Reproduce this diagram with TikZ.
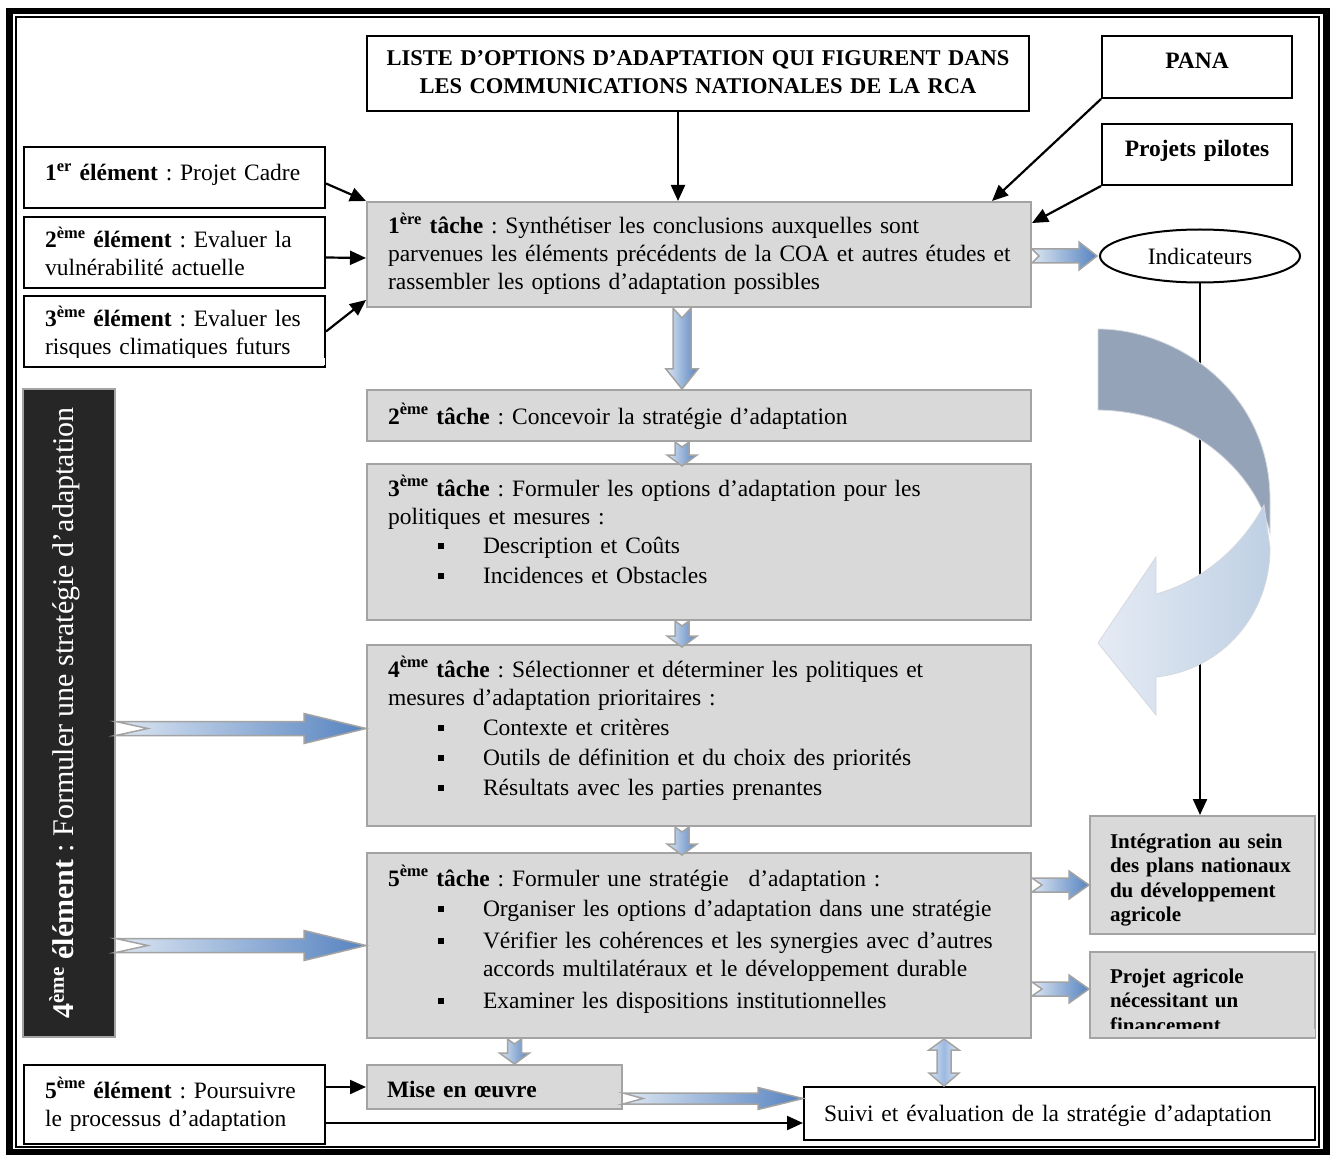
\documentclass[tikz,border=0pt]{standalone}
\usepackage{fontspec}
\setmainfont{Liberation Serif}
\usetikzlibrary{arrows.meta,calc,shapes.geometric}
\frenchspacing
\hyphenpenalty=10000
\exhyphenpenalty=10000

\definecolor{tachegris}{HTML}{D9D9D9}
\definecolor{bordgris}{HTML}{A3A3A3}
\definecolor{fonce}{HTML}{262626}
\definecolor{flecheclair}{HTML}{DCE6F2}
\definecolor{flechebleu}{HTML}{5683C0}
\definecolor{flechemoyen}{HTML}{9DB9E0}
\definecolor{ardoise}{HTML}{94A3B8}
\definecolor{ciel}{HTML}{BFD0E4}
\definecolor{cielpale}{HTML}{E5EBF4}
\definecolor{contour}{HTML}{D4D8DE}

\newcommand{\normale}{\fontsize{23.5}{28}\selectfont}
\newcommand{\grastitre}{\fontsize{22.5}{28}\selectfont\bfseries}
\newcommand{\grasboite}{\fontsize{21}{24.5}\selectfont\bfseries}
\newcommand{\puce}{\hspace*{50pt}\rule[4pt]{6pt}{6pt}\hspace*{39pt}}
\newcommand{\suite}{\hspace*{95pt}}

\newcommand{\flechedroite}[6]{%
	\path[grosse] let \p1=(#1), \p2=(#2) in
		(\x1,\y2+#5pt) -- (\x2-#3pt,\y2+#5pt) -- (\x2-#3pt,\y2+#6pt) -- (\x2,\y2)
		-- (\x2-#3pt,\y2-#6pt) -- (\x2-#3pt,\y2-#5pt) -- (\x1,\y2-#5pt) -- (\x1+#4pt,\y2) -- cycle;}
\newcommand{\flechebas}[6]{%
	\path[grosse] let \p1=(#1), \p2=(#2) in
		(\x2-#5pt,\y1) -- (\x2-#5pt,\y2+#3pt) -- (\x2-#6pt,\y2+#3pt) -- (\x2,\y2)
		-- (\x2+#6pt,\y2+#3pt) -- (\x2+#5pt,\y2+#3pt) -- (\x2+#5pt,\y1) -- (\x2,\y1-#4pt) -- cycle;}
\newcommand{\flechedouble}[2]{%
	\path[doublef] let \p1=(#1), \p2=(#2) in
		(\x1,\y1) -- (\x1+15pt,\y1-11pt) -- (\x1+7pt,\y1-11pt) -- (\x1+7pt,\y2+13pt) -- (\x1+15pt,\y2+13pt) -- (\x1,\y2)
		-- (\x1-15pt,\y2+13pt) -- (\x1-7pt,\y2+13pt) -- (\x1-7pt,\y1-11pt) -- (\x1-15pt,\y1-11pt) -- cycle;}

\tikzset{
	cadre/.style={draw, line width=2pt, fill=white, anchor=north west, align=left, inner xsep=21pt, inner ysep=0pt, font=\normale},
	tache/.style={cadre, draw=bordgris, fill=tachegris, text width=622pt},
	titre/.style={cadre, align=center, inner xsep=10pt, font=\grastitre},
	fleche/.style={line width=2.2pt, -{Triangle[length=16pt,width=14pt]}},
	grosse/.style={draw=bordgris, line width=1.5pt, left color=flecheclair, right color=flechebleu},
	doublef/.style={draw=bordgris, line width=1.5pt, left color=flecheclair, right color=flecheclair, middle color=flechemoyen},
}

\begin{document}
\begin{tikzpicture}[x=1pt, y=-1pt]
	\useasboundingbox (0,0) rectangle (1333,1155);
	\draw[line width=6.5pt] (9.5,11) rectangle (1326.5,1152.5);
	\draw[line width=2pt] (16,17) rectangle (1319,1147);

	\node[titre, text width=642pt, text height=30pt, text depth=45pt] (liste) at (366,35) {LISTE D’OPTIONS D’ADAPTATION QUI FIGURENT DANS\\ LES COMMUNICATIONS NATIONALES DE LA RCA};
	\node[titre, text width=170pt, text height=33pt, text depth=29pt, font={\normale\bfseries}] (pana) at (1101,35) {PANA};
	\node[titre, text width=170pt, text height=33pt, text depth=28pt, font={\normale\bfseries}] (pilotes) at (1101,123) {Projets pilotes};

	\node[cadre, text width=259pt, text height=34pt, text depth=27pt] (el1) at (23,146) {\textbf{1\textsuperscript{er} élément} : Projet Cadre};
	\node[cadre, text width=259pt, text height=31pt, text depth=40pt] (el2) at (23,216) {\textbf{2\textsuperscript{ème} élément} : Evaluer la\\ vulnérabilité actuelle};
	\node[cadre, text width=259pt, text height=31pt, text depth=40pt] (el3) at (23,295) {\textbf{3\textsuperscript{ème} élément} : Evaluer les\\ risques climatiques futurs};
	\fill[white] ($(el3.south west)+(1.5,-10)$) rectangle ($(el3.south east)+(-1.5,-2.5)$);
	\node[cadre, text width=259pt, text height=33pt, text depth=46pt] (el5) at (23,1064) {\textbf{5\textsuperscript{ème} élément} : Poursuivre\\ le processus d’adaptation};
	\node[draw=bordgris, fill=fonce, line width=1.5pt, rotate=90, minimum width=648pt, minimum height=92pt, inner sep=0pt, text=white, font=\fontsize{30}{34}\selectfont, text height=21pt, text depth=13pt] (el4) at (69,713) {\textbf{4\textsuperscript{ème} élément} : Formuler une stratégie d’adaptation};

	\node[tache, text height=32pt, text depth=73pt] (t1) at (366,201) {\textbf{1\textsuperscript{ère} tâche} : Synthétiser les conclusions auxquelles sont\\ \mbox{parvenues les éléments précédents de la COA et autres études et}\\ rassembler les options d’adaptation possibles};
	\node[tache, text height=34pt, text depth=17pt] (t2) at (366,389) {\textbf{2\textsuperscript{ème} tâche} : Concevoir la stratégie d’adaptation};
	\node[tache, text height=32pt, text depth=124pt] (t3) at (366,463) {\textbf{3\textsuperscript{ème} tâche} : Formuler les options d’adaptation pour les\\ politiques et mesures :\\[1pt] \puce Description et Coûts\\[2pt] \puce Incidences et Obstacles};
	\node[tache, text height=32pt, text depth=149pt] (t4) at (366,644) {\textbf{4\textsuperscript{ème} tâche} : Sélectionner et déterminer les politiques et\\ mesures d’adaptation prioritaires :\\[2pt] \puce Contexte et critères\\[2pt] \puce Outils de définition et du choix des priorités\\[2pt] \puce Résultats avec les parties prenantes};
	\node[tache, text height=33pt, text depth=152pt] (t5) at (366,852) {\textbf{5\textsuperscript{ème} tâche} : Formuler une stratégie\hspace{12pt} d’adaptation :\\[2pt] \puce Organiser les options d’adaptation dans une stratégie\\[4pt] \puce Vérifier les cohérences et les synergies avec d’autres\\ \suite accords multilatéraux et le développement durable\\[4pt] \puce Examiner les dispositions institutionnelles};

	\node[draw, ellipse, line width=2pt, minimum width=200pt, minimum height=53pt, inner sep=0pt, font=\normale] (ind) at (1200,256) {Indicateurs};
	\node[cadre, draw=bordgris, fill=tachegris, text width=185pt, inner xsep=20pt, text height=32pt, text depth=86pt, font=\grasboite] (integ) at (1089,815) {Intégration au sein\\ des plans nationaux\\ du développement\\ agricole};
	\node[cadre, draw=bordgris, fill=tachegris, text width=185pt, inner xsep=20pt, text height=31pt, text depth=55pt, font=\grasboite] (agri) at (1089,951) {Projet agricole\\ nécessitant un\\ financement};
	\fill[tachegris] ($(agri.south west)+(1.5,-10)$) rectangle ($(agri.south east)+(-1.5,-2.5)$);
	\node[cadre, draw=bordgris, fill=tachegris, text width=215pt, inner xsep=20pt, text height=32pt, text depth=12pt, font={\normale\bfseries}] (mise) at (366,1064) {Mise en œuvre};
	\node[cadre, text width=471pt, inner xsep=20pt, text height=34pt, text depth=19pt] (suivi) at (803,1086) {Suivi et évaluation de la stratégie d’adaptation};

	\draw[fleche] (ind.south) -- (ind.south |- integ.north);
	\filldraw[draw=contour, line width=0.8pt, fill=ardoise] (1098,329) .. controls (1175,329) and (1270,390) .. (1270,500) -- (1270,533) .. controls (1258,480) and (1200,412) .. (1098,410) -- cycle;
	\path[draw=contour, line width=0.8pt, left color=cielpale, right color=ciel] (1264,505) -- (1270,548) .. controls (1270,615) and (1222,670) .. (1156,677) -- (1156,715) -- (1098,643) -- (1156,557) -- (1156,594) .. controls (1200,582) and (1240,550) .. (1264,505) -- cycle;

	\draw[fleche] ($(liste.south)+(-20,0)$) -- ($(t1.north)+(-21,0)$);
	\draw[fleche] (pana.south west) -- ($(t1.north east)+(-40,0)$);
	\draw[fleche] (pilotes.south west) -- ($(t1.north east)+(0,22)$);
	\draw[fleche] ($(el1.east)+(0,6)$) -- (t1.north west);
	\draw[fleche] ($(el2.east)+(0,5)$) -- ($(t1.west)+(0,3.5)$);
	\draw[fleche] (el3.east) -- ($(t1.south west)+(0,-8)$);
	\draw[fleche] (el5.east |- mise.west) -- (mise.west);
	\draw[fleche] ($(el5.east)+(0,18.5)$) -- ($(suivi.west)+(0,9.5)$);

	\flechebas{t1.south}{$(t2.north)+(-17,0)$}{20}{10}{9}{16}
	\flechebas{t2.south}{$(t3.north)+(-17,3)$}{11}{5}{7}{15}
	\flechebas{t3.south}{$(t4.north)+(-17,3)$}{11}{5}{7}{15}
	\flechebas{t4.south}{$(t5.north)+(-17,3)$}{11}{5}{7}{15}
	\flechebas{t5.south}{$(mise.north)+(20,0)$}{11}{5}{7}{15}
	\flechedouble{$(t5.south east)+(-88,0)$}{suivi.north}
	\flechedroite{el4.south}{$(t4.west)+(0,-7)$}{62}{32}{7}{15}
	\flechedroite{el4.south}{t5.west}{62}{32}{7}{15}
	\flechedroite{t1.east}{$(ind.west)+(-2,0)$}{18}{7}{7}{14}
	\flechedroite{t5.east}{$(integ.west)+(0,10)$}{20}{10}{7}{14}
	\flechedroite{t5.east}{$(agri.west)+(0,-6)$}{20}{10}{7}{14}
	\flechedroite{mise.east}{$(suivi.west)+(0,-15)$}{45}{20}{5.5}{11}
\end{tikzpicture}
\end{document}
